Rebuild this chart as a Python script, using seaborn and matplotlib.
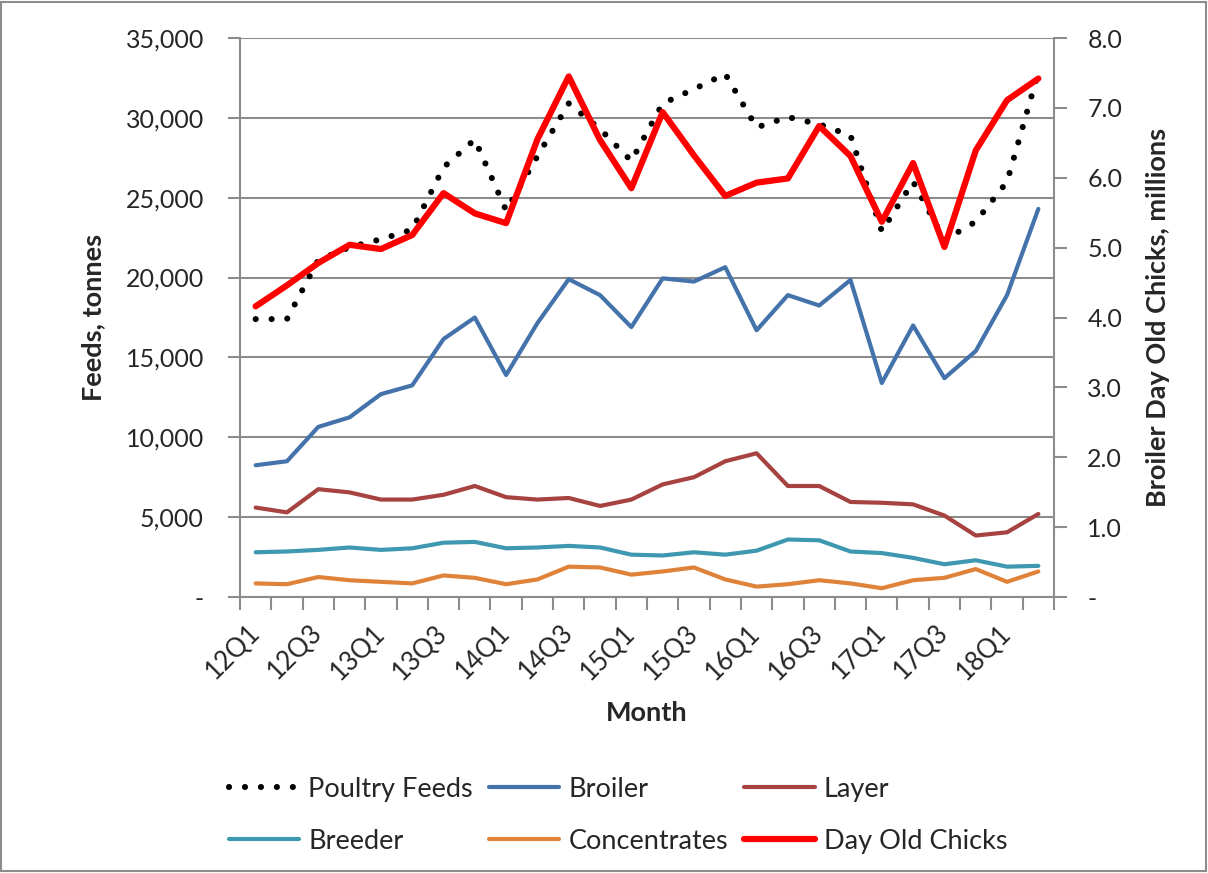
import numpy as np
import matplotlib
matplotlib.use("Agg")
import matplotlib.pyplot as plt
import seaborn as sns
from matplotlib.ticker import FixedLocator, FuncFormatter

# data
quarters = ["12Q1", "12Q2", "12Q3", "12Q4", "13Q1", "13Q2", "13Q3", "13Q4",
            "14Q1", "14Q2", "14Q3", "14Q4", "15Q1", "15Q2", "15Q3", "15Q4",
            "16Q1", "16Q2", "16Q3", "16Q4", "17Q1", "17Q2", "17Q3", "17Q4",
            "18Q1", "18Q2"]
tick_labels = ["12Q1", "12Q3", "13Q1", "13Q3", "14Q1", "14Q3", "15Q1",
               "15Q3", "16Q1", "16Q3", "17Q1", "17Q3", "18Q1"]

poultry_feeds = [17400, 17400, 21100, 21900, 22400, 23000, 26900, 28650,
                 24200, 27600, 30900, 29300, 27300, 30900, 31800, 32750,
                 29400, 30050, 29600, 28900, 22900, 26000, 22350, 23500,
                 26000, 32850]
broiler = [8250, 8500, 10650, 11250, 12700, 13250, 16150, 17500,
           13900, 17150, 19900, 18900, 16900, 19950, 19750, 20650,
           16700, 18900, 18250, 19850, 13400, 17000, 13700, 15400,
           18900, 24300]
layer = [5600, 5300, 6750, 6550, 6100, 6100, 6400, 6950,
         6250, 6100, 6200, 5700, 6100, 7050, 7500, 8500,
         9000, 6950, 6950, 5950, 5900, 5800, 5100, 3850,
         4050, 5200]
breeder = [2800, 2850, 2950, 3100, 2950, 3050, 3400, 3450,
           3050, 3100, 3200, 3100, 2650, 2600, 2800, 2650,
           2900, 3600, 3550, 2850, 2750, 2450, 2050, 2300,
           1900, 1950]
concentrates = [850, 800, 1250, 1050, 950, 850, 1350, 1200,
                800, 1100, 1900, 1850, 1400, 1600, 1850, 1100,
                650, 800, 1050, 850, 550, 1050, 1200, 1750,
                950, 1600]
day_old_chicks = [4.16, 4.46, 4.78, 5.04, 4.98, 5.18, 5.78, 5.49,
                  5.35, 6.55, 7.45, 6.54, 5.85, 6.94, 6.32, 5.74,
                  5.93, 5.99, 6.74, 6.31, 5.37, 6.21, 5.01, 6.39,
                  7.11, 7.42]

GRAY = "#8c8c8c"
FS_TICK = 18
FS_XTICK = 18.5
FS = 19.5

sns.set_style("white")
plt.rcParams['font.family'] = ['Lato', 'DejaVu Sans']

fig = plt.figure(figsize=(12.08, 8.73), dpi=100)
ax = fig.add_axes([240 / 1208, 1 - 597 / 873, 814 / 1208, 559 / 873])
x = np.arange(len(quarters))

sns.lineplot(x=x, y=poultry_feeds, ax=ax, color="black", lw=4.4,
             linestyle=(0, (0.01, 2.6)), dash_capstyle="round",
             label="Poultry Feeds", legend=False)
sns.lineplot(x=x, y=broiler, ax=ax, color="#4472AA", lw=3.0,
             label="Broiler", legend=False)
sns.lineplot(x=x, y=layer, ax=ax, color="#A6423F", lw=3.0,
             label="Layer", legend=False)
sns.lineplot(x=x, y=breeder, ax=ax, color="#3E98B0", lw=3.0,
             label="Breeder", legend=False)
sns.lineplot(x=x, y=concentrates, ax=ax, color="#E0833A", lw=3.0,
             label="Concentrates", legend=False)

ax2 = ax.twinx()
sns.lineplot(x=x, y=day_old_chicks, ax=ax2, color="#FF0000", lw=4.5,
             label="Day Old Chicks", legend=False)

# left axis
ax.set_ylim(0, 35000)
ax.yaxis.set_major_locator(FixedLocator(np.arange(0, 35001, 5000)))
ax.yaxis.set_major_formatter(FuncFormatter(lambda v, p: "-" if v == 0 else f"{v:,.0f}"))
ax.yaxis.grid(True, color=GRAY, lw=1.5)
ax.set_axisbelow(True)
ax.tick_params(axis="y", which="major", length=9, width=1.5, color=GRAY,
               direction="out", left=True, labelsize=FS_TICK, pad=17)

# right axis
ax2.set_ylim(0, 8)
ax2.yaxis.set_major_locator(FixedLocator(np.arange(0, 8.01, 1)))
ax2.yaxis.set_major_formatter(FuncFormatter(lambda v, p: "-" if v == 0 else f"{v:.1f}"))
ax2.tick_params(axis="y", which="major", length=9, width=1.5, color=GRAY,
                direction="out", right=True, labelsize=FS_TICK, pad=15)

# category x axis
ax.set_xlim(-0.5, len(quarters) - 0.5)
ax.xaxis.set_major_locator(FixedLocator(np.arange(-0.5, len(quarters), 1)))
ax.xaxis.set_major_formatter(FuncFormatter(lambda v, p: ""))
ax.xaxis.set_minor_locator(FixedLocator(x[::2]))
ax.set_xticklabels(tick_labels, minor=True)
ax.tick_params(axis="x", which="major", length=9, width=1.5, color=GRAY,
               direction="out", bottom=True)
ax.tick_params(axis="x", which="minor", length=0, labelsize=FS_XTICK, pad=23)
plt.setp(ax.get_xticklabels(minor=True), rotation=45, ha="right",
         va="center", rotation_mode="anchor")

for a in (ax, ax2):
    a.set_xlabel("")
    a.set_ylabel("")
    for s in a.spines.values():
        s.set_visible(False)
ax.spines["left"].set_visible(True)
ax.spines["bottom"].set_visible(True)
ax2.spines["right"].set_visible(True)
for s in (ax.spines["left"], ax.spines["bottom"], ax2.spines["right"]):
    s.set_color(GRAY)
    s.set_linewidth(1.5)

# axis titles
fig.text(93 / 1208, 1 - 317 / 873, "Feeds, tonnes", rotation=90,
         ha="center", va="center", fontsize=FS, fontweight="bold")
fig.text(1158 / 1208, 1 - 317 / 873, "Broiler Day Old Chicks, millions",
         rotation=90, ha="center", va="center", fontsize=FS, fontweight="bold")
fig.text(647 / 1208, 1 - 713 / 873, "Month", ha="center", va="center",
         fontsize=FS, fontweight="bold")

# legend (row-major order like the reference)
h1, l1 = ax.get_legend_handles_labels()
h2, l2 = ax2.get_legend_handles_labels()
handles = dict(zip(l1 + l2, h1 + h2))
order = ["Poultry Feeds", "Breeder", "Broiler", "Concentrates", "Layer", "Day Old Chicks"]
fig.legend([handles[k] for k in order], order, ncol=3, frameon=False,
           loc="upper left", bbox_to_anchor=(218 / 1208, 1 - 766 / 873),
           fontsize=FS, handlelength=2.6, handletextpad=0.33,
           columnspacing=0.6, labelspacing=1.0, borderaxespad=0)

fig.add_artist(plt.Rectangle((0.001, 0.002), 0.997, 0.996, transform=fig.transFigure,
                             fill=False, ec=GRAY, lw=1.5))

fig.savefig("out.png", dpi=100)
